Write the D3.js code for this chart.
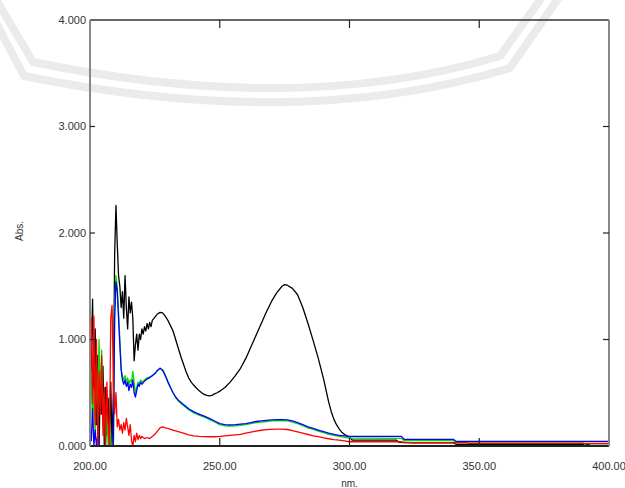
<!DOCTYPE html>
<html>
<head>
<meta charset="utf-8">
<script src="https://cdn.jsdelivr.net/npm/d3@7"></script>
<style>
  body { margin: 0; background: #fff; }
  text { font-family: "Liberation Sans", Arial, sans-serif; }
</style>
</head>
<body>
<div id="plot"></div>
<script>
// tick values
const xTicks = [200, 250, 300, 350, 400];
const yTicks = [0, 1, 2, 3, 4];

// spectra, [nm, Abs]
const black = [
  [200, 0.0], [200.5, 0.9], [201, 1.38], [201.5, 0.5], [202, 1.1], [202.5, 0.2], [203, 0.85], [203.5, 0.0],
  [204, 0.6], [204.5, 0.3], [205, 0.75], [205.5, 0.0], [206, 0.55], [206.5, 0.1], [207, 0.45], [207.5, 0.0],
  [208, 0.6], [208.5, 0.0], [209, 0.5], [209.5, 1.8], [210, 2.26], [210.5, 1.9], [211, 1.6], [211.5, 1.5],
  [212, 1.3], [212.5, 1.45], [213, 1.2], [213.5, 1.6], [214, 1.3], [214.5, 1.1], [215, 1.4], [215.5, 1.25],
  [216, 1.35], [216.5, 1.2], [217, 0.8], [217.5, 0.95], [218, 1.05], [218.5, 0.9], [219, 1.05], [219.5, 1.0],
  [220, 1.1], [220.5, 1.05], [221, 1.12], [221.5, 1.08], [222, 1.15], [222.5, 1.1], [223, 1.16], [223.5, 1.12],
  [224, 1.18], [225, 1.21], [226, 1.24], [227, 1.255], [228, 1.25], [229, 1.22], [230, 1.18], [231, 1.13],
  [232, 1.08], [233, 1.0], [234, 0.92], [235, 0.84], [236, 0.77], [237, 0.7], [238, 0.64], [239, 0.6],
  [240, 0.57], [241, 0.545], [242, 0.52], [243, 0.5], [244, 0.485], [245, 0.475], [246, 0.47], [247, 0.475],
  [248, 0.49], [249, 0.5], [250, 0.515], [252, 0.55], [254, 0.6], [256, 0.66], [258, 0.73], [260, 0.82],
  [262, 0.93], [264, 1.04], [266, 1.15], [268, 1.26], [270, 1.36], [272, 1.44], [274, 1.5], [275, 1.515],
  [276, 1.51], [278, 1.48], [280, 1.42], [282, 1.3], [284, 1.15], [286, 0.99], [288, 0.82], [290, 0.63],
  [291, 0.52], [292, 0.41], [293, 0.32], [294, 0.25], [295, 0.2], [296, 0.16], [297, 0.13], [298, 0.11],
  [299, 0.095], [300, 0.085], [301, 0.056], [318, 0.056], [319, 0.035], [325, 0.03], [340, 0.03],
  [341, 0.016], [392, 0.016], [393, 0.005], [400, 0.005]
];

const green = [
  [200, 0.3], [200.5, 0.7], [201, 0.2], [201.5, 0.55], [202, 0.1], [202.5, 0.8], [203, 0.3], [203.5, 1.0],
  [204, 0.4], [204.5, 0.9], [205, 0.2], [205.5, 0.5], [206, 0.0], [206.5, 0.3], [207, 0.0], [207.5, 0.2],
  [208, 0.0], [208.5, 0.0], [209, 0.0], [209.5, 1.3], [210, 1.6], [210.5, 1.5], [211, 1.25], [211.5, 1.0],
  [212, 0.72], [212.5, 0.66], [213, 0.62], [213.5, 0.66], [214, 0.6], [214.5, 0.64], [215, 0.58], [215.5, 0.62],
  [216, 0.6], [216.5, 0.7], [217, 0.6], [217.5, 0.5], [218, 0.55], [218.5, 0.6], [219, 0.58], [219.5, 0.62],
  [220, 0.6], [221, 0.62], [222, 0.64], [223, 0.65], [224, 0.66], [225, 0.68], [226, 0.71], [227, 0.73],
  [228, 0.715], [229, 0.67], [230, 0.61], [231, 0.555], [232, 0.5], [233, 0.455], [234, 0.425], [235, 0.4],
  [236, 0.38], [237, 0.36], [238, 0.34], [240, 0.31], [242, 0.29], [244, 0.27], [246, 0.25], [248, 0.225],
  [250, 0.2], [252, 0.19], [254, 0.187], [256, 0.19], [258, 0.195], [260, 0.2], [262, 0.21], [264, 0.22],
  [266, 0.225], [268, 0.23], [270, 0.235], [272, 0.237], [274, 0.237], [276, 0.235], [278, 0.225], [280, 0.21],
  [282, 0.19], [284, 0.17], [286, 0.155], [288, 0.14], [290, 0.125], [292, 0.11], [294, 0.1], [296, 0.09],
  [298, 0.082], [300, 0.075], [320, 0.072], [321, 0.05], [340, 0.05], [341, 0.03], [390, 0.03],
  [391, 0.005], [400, 0.005]
];

const blue = [
  [200, 0.2], [200.5, 0.05], [201, 0.35], [201.5, 0.0], [202, 0.15], [202.5, 0.0], [203, 0.1], [203.5, 0.0],
  [208.5, 0.0], [209, 0.0], [209.5, 1.2], [210, 1.54], [210.5, 1.45], [211, 1.2], [211.5, 0.95], [212, 0.72],
  [212.5, 0.62], [213, 0.58], [213.5, 0.62], [214, 0.56], [214.5, 0.6], [215, 0.52], [215.5, 0.58], [216, 0.55],
  [216.5, 0.62], [217, 0.5], [217.5, 0.46], [218, 0.52], [218.5, 0.58], [219, 0.56], [219.5, 0.6], [220, 0.58],
  [221, 0.61], [222, 0.63], [223, 0.64], [224, 0.66], [225, 0.68], [226, 0.71], [227, 0.73], [228, 0.71],
  [229, 0.66], [230, 0.6], [231, 0.55], [232, 0.5], [233, 0.46], [234, 0.43], [235, 0.41], [236, 0.39],
  [237, 0.37], [238, 0.35], [240, 0.32], [242, 0.3], [244, 0.28], [246, 0.26], [248, 0.235], [250, 0.21],
  [252, 0.2], [254, 0.197], [256, 0.2], [258, 0.205], [260, 0.21], [262, 0.22], [264, 0.23], [266, 0.235],
  [268, 0.24], [270, 0.245], [272, 0.247], [274, 0.247], [276, 0.245], [278, 0.235], [280, 0.22], [282, 0.2],
  [284, 0.18], [286, 0.165], [288, 0.15], [290, 0.135], [292, 0.12], [294, 0.11], [296, 0.1], [298, 0.095],
  [300, 0.09], [320, 0.09], [321, 0.063], [340, 0.063], [341, 0.044], [400, 0.044]
];

const red = [
  [200, 0.8], [200.5, 1.2], [201, 0.4], [201.5, 1.22], [202, 0.2], [202.5, 1.0], [203, 0.0], [203.5, 0.7],
  [204, 0.3], [204.5, 0.85], [205, 0.1], [205.5, 0.55], [206, 0.0], [206.5, 0.6], [207, 0.2], [207.5, 0.0],
  [208, 1.2], [208.5, 1.32], [209, 0.6], [209.5, 0.3], [210, 0.5], [210.5, 0.18], [211, 0.25], [211.5, 0.15],
  [212, 0.2], [212.5, 0.12], [213, 0.22], [213.5, 0.15], [214, 0.26], [214.5, 0.18], [215, 0.1], [215.5, 0.2],
  [216, 0.05], [216.5, 0.0], [217, 0.1], [217.5, 0.04], [218, 0.12], [218.5, 0.06], [219, 0.1], [219.5, 0.07],
  [220, 0.09], [221, 0.07], [222, 0.08], [223, 0.07], [224, 0.09], [225, 0.11], [226, 0.14], [227, 0.17],
  [228, 0.18], [229, 0.17], [230, 0.165], [232, 0.15], [234, 0.135], [236, 0.12], [238, 0.105], [240, 0.095],
  [242, 0.09], [244, 0.088], [246, 0.087], [248, 0.087], [250, 0.09], [252, 0.095], [254, 0.1], [256, 0.105],
  [258, 0.11], [260, 0.12], [262, 0.13], [264, 0.14], [266, 0.148], [268, 0.153], [270, 0.156], [272, 0.158],
  [274, 0.158], [276, 0.155], [278, 0.145], [280, 0.133], [282, 0.12], [284, 0.108], [286, 0.096], [288, 0.087],
  [290, 0.077], [292, 0.068], [294, 0.06], [296, 0.055], [298, 0.048], [300, 0.04], [320, 0.04], [321, 0.031],
  [345, 0.031], [346, 0.025], [400, 0.025]
];

const series = [
  { data: black, color: "#000000" },
  { data: green, color: "#00dd00" },
  { data: blue, color: "#0000ff" },
  { data: red, color: "#ff0000" }
];

const svgWidth = 625, svgHeight = 488;
const margin = { top: 20, right: 16, bottom: 42, left: 90 };
const width = svgWidth - margin.left - margin.right;
const height = svgHeight - margin.top - margin.bottom;

const root = d3.select('#plot')
  .append('svg')
  .attr("width", svgWidth)
  .attr("height", svgHeight);

// background watermark (two light bands)
const wm = root.append("g").attr("fill", "none").attr("stroke", "#ebebeb").attr("stroke-width", 8);
function band(a, b, c, d, e) {
  const p = d3.path();
  p.moveTo(a[0], a[1]);
  p.lineTo(b[0], b[1]);
  p.quadraticCurveTo(c[0], c[1], d[0], d[1]);
  p.lineTo(e[0], e[1]);
  return p.toString();
}
wm.append("path").attr("d", band([-6, -4], [33, 62], [300, 117], [500, 56], [543, -4]));
wm.append("path").attr("d", band([-18, -4], [24, 76], [300, 132], [510, 68], [560, -4]));

const svg = root.append("g")
  .attr("transform", "translate(" + margin.left + "," + margin.top + ")");

const x = d3.scaleLinear().domain([200, 400]).range([0, width]);
const y = d3.scaleLinear().domain([0, 4]).range([height, 0]);

// spectra
const line = d3.line()
  .x(function(d) { return x(d[0]); })
  .y(function(d) { return y(d[1]); });

svg.append("defs").append("clipPath").attr("id", "clip")
  .append("rect").attr("width", width).attr("height", height);

svg.selectAll(".spec")
  .data(series)
  .enter()
  .append("path")
  .attr("class", "spec")
  .attr("clip-path", "url(#clip)")
  .attr("fill", "none")
  .attr("stroke", function(d) { return d.color; })
  .attr("stroke-width", 1.3)
  .attr("stroke-linejoin", "round")
  .attr("d", function(d) { return line(d.data); });

// frame
svg.append("line").attr("x1", 0).attr("x2", width).attr("y1", 0).attr("y2", 0)
  .attr("stroke", "#333").attr("stroke-width", 1.5);
svg.append("line").attr("x1", 0).attr("x2", width).attr("y1", height).attr("y2", height)
  .attr("stroke", "#222").attr("stroke-width", 2);
svg.append("line").attr("x1", 0).attr("x2", 0).attr("y1", 0).attr("y2", height)
  .attr("stroke", "#888").attr("stroke-width", 2);
svg.append("line").attr("x1", width).attr("x2", width).attr("y1", 0).attr("y2", height)
  .attr("stroke", "#888").attr("stroke-width", 2);

// inner ticks
const innerX = xTicks.slice(1, -1);
const innerY = yTicks.slice(1, -1);
svg.selectAll(".tt").data(innerX).enter().append("line")
  .attr("x1", x).attr("x2", x).attr("y1", 0).attr("y2", 8)
  .attr("stroke", "#222").attr("stroke-width", 1.2);
svg.selectAll(".bt").data(innerX).enter().append("line")
  .attr("x1", x).attr("x2", x).attr("y1", height).attr("y2", height - 8)
  .attr("stroke", "#222").attr("stroke-width", 1.2);
svg.selectAll(".lt").data(innerY).enter().append("line")
  .attr("x1", 0).attr("x2", 5).attr("y1", y).attr("y2", y)
  .attr("stroke", "#222").attr("stroke-width", 1.2);
svg.selectAll(".rt").data(innerY).enter().append("line")
  .attr("x1", width).attr("x2", width - 6).attr("y1", y).attr("y2", y)
  .attr("stroke", "#222").attr("stroke-width", 1.2);

// tick labels
svg.selectAll(".yl").data(yTicks).enter().append("text")
  .attr("x", -4).attr("y", y).attr("dy", "0.35em")
  .attr("text-anchor", "end").attr("font-size", 11).attr("fill", "#333")
  .text(d3.format(".3f"));
svg.selectAll(".xl").data(xTicks).enter().append("text")
  .attr("x", x).attr("y", height + 20).attr("dy", "0.35em")
  .attr("text-anchor", "middle").attr("font-size", 11).attr("fill", "#333")
  .text(d3.format(".2f"));

// axis titles
svg.append("text")
  .attr("x", width / 2).attr("y", height + 37).attr("dy", "0.35em")
  .attr("text-anchor", "middle").attr("font-size", 10).attr("fill", "#333")
  .text("nm.");
svg.append("text")
  .attr("transform", "translate(-71," + (height / 2 - 2) + ") rotate(-90)")
  .attr("dy", "0.35em")
  .attr("text-anchor", "middle").attr("font-size", 10).attr("fill", "#333")
  .text("Abs.");
</script>
</body>
</html>
